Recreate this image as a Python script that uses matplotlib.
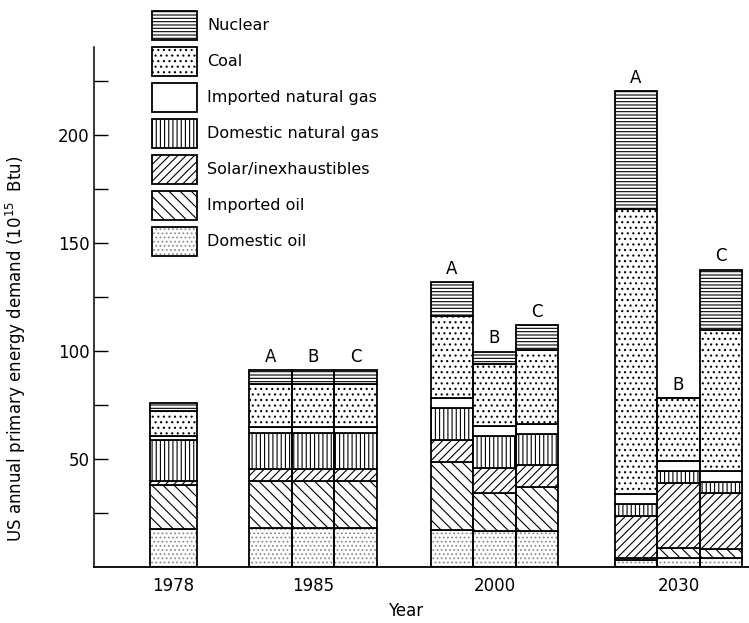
import matplotlib.pyplot as plt
from matplotlib.patches import Rectangle
import numpy as np

plt.rcParams['hatch.linewidth'] = 0.8

# ------------------------
# Data: US primary energy demand (10^15 Btu), one value per bar
# bars: 1978 | 1985 A B C | 2000 A B C | 2030 A B C
years = ['1978', '1985', '2000', '2030']
cases = [[''], ['A', 'B', 'C'], ['A', 'B', 'C'], ['A', 'B', 'C']]

dom_oil = [17.5, 18.2, 18.2, 18.2, 17.1, 16.8, 16.8, 3.2, 4.0, 4.0]
imp_oil = [20.5, 21.6, 21.6, 21.6, 31.7, 17.3, 20.1, 0.8, 4.6, 4.2]
solar = [2.0, 5.6, 5.6, 5.6, 10.0, 11.6, 10.3, 19.6, 30.4, 26.2]
dom_gas = [18.8, 16.8, 16.8, 16.8, 15.0, 15.1, 14.6, 5.4, 5.4, 5.2]
imp_gas = [1.8, 2.5, 2.5, 2.5, 4.6, 4.6, 4.4, 4.6, 4.6, 4.8]
coal = [11.5, 19.9, 19.9, 19.9, 37.9, 28.5, 34.1, 132.4, 29.3, 65.6]
nuclear = [4.0, 6.6, 6.6, 6.6, 15.5, 5.9, 11.6, 54.5, 0.0, 27.8]

sources = ['Domestic oil', 'Imported oil', 'Solar/inexhaustibles',
           'Domestic natural gas', 'Imported natural gas', 'Coal', 'Nuclear']

# ------------------------
# Bar layout
group_x = [79.5, 219, 400.5, 584.5]
bw = 42.5
xpos = []
widths = []
letters = []
for g in range(len(years)):
    n = len(cases[g])
    for k in range(n):
        xpos.append(group_x[g] + (k - (n - 1) / 2) * bw)
        widths.append(47 if n == 1 else bw)
        letters.append(cases[g][k])

layers = [dom_oil, imp_oil, solar, dom_gas, imp_gas, coal, nuclear]
hatches = ['....', '\\\\\\', '////', '||||', '', '...', '-----']
hcolors = ['0.55', 'k', 'k', 'k', 'k', 'k', 'k']

W, H = 749, 623
fig = plt.figure(figsize=(W / 100, H / 100), dpi=100)
ax = fig.add_axes([94 / W, 56 / H, 655 / W, 520.3 / H])

# ------------------------
# Stacked bars
bottom = np.zeros(len(xpos))
for i in range(len(layers)):
    vals = np.array(layers[i])
    ax.bar(xpos, vals, widths, bottom=bottom, color='white',
           edgecolor=hcolors[i], hatch=hatches[i], linewidth=0)
    ax.bar(xpos, vals, widths, bottom=bottom, fill=False,
           edgecolor='k', linewidth=1.3)
    bottom = bottom + vals

for j in range(len(xpos)):
    if letters[j]:
        ax.text(xpos[j], bottom[j] + 2, letters[j], ha='center', va='bottom',
                fontsize=12)

# ------------------------
# Axes
ax.set_xlim(0, 655)
ax.set_ylim(0, 241)
ax.spines['top'].set_visible(False)
ax.spines['right'].set_visible(False)
ax.spines['left'].set_linewidth(1.1)
ax.spines['bottom'].set_linewidth(1.3)

ax.set_yticks([50, 100, 150, 200])
ax.set_yticks([25, 75, 125, 175, 225], minor=True)
ax.tick_params(axis='y', which='both', direction='in', length=10, width=1,
               labelsize=12, pad=3)
ax.set_xticks(group_x)
ax.set_xticklabels(years)
ax.tick_params(axis='x', length=0, labelsize=12, pad=7)

ax.set_ylabel(r'US annual primary energy demand (10$^{15}$  Btu)', fontsize=12)
ax.yaxis.set_label_coords(-0.10, 0.42)
ax.set_xlabel('Year', fontsize=12)
ax.xaxis.set_label_coords(0.475, -0.068)

# ------------------------
# Legend drawn by hand (Nuclear at top ... Domestic oil at bottom)
for r, i in enumerate(range(len(layers) - 1, -1, -1)):
    top = 11 + 36 * r
    box = [152 / W, 1 - (top + 29) / H, 45 / W, 29 / H]
    fig.add_artist(Rectangle((box[0], box[1]), box[2], box[3],
                             transform=fig.transFigure, facecolor='white',
                             edgecolor=hcolors[i], hatch=hatches[i],
                             linewidth=0))
    fig.add_artist(Rectangle((box[0], box[1]), box[2], box[3],
                             transform=fig.transFigure, fill=False,
                             edgecolor='k', linewidth=1.3))
    fig.text(207 / W, 1 - (top + 14.5) / H, sources[i], ha='left',
             va='center', fontsize=11.5)

fig.savefig('out.png', dpi=100)
